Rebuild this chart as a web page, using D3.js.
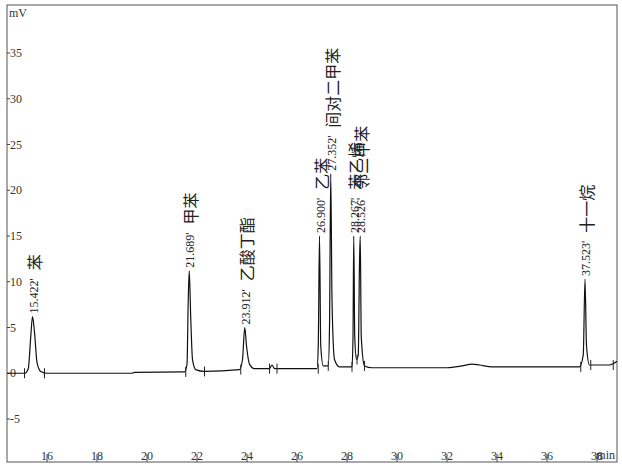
<!DOCTYPE html>
<html><head><meta charset="utf-8">
<script src="https://cdn.jsdelivr.net/npm/d3@7"></script>
<style>body{margin:0;background:#fff}</style>
</head><body>
<div id="chart"></div>
<script>
var trace = [[14.4,0],[15.1,0],[15.25,0.5],[15.35,4],[15.42,6.2],[15.5,4.5],[15.6,1.2],[15.75,0.2],[16,0],[19.4,0],[19.5,0.1],[21.5,0.15],[21.6,1],[21.65,8],[21.69,11.2],[21.75,6],[21.82,1.5],[21.95,0.4],[22.3,0.2],[23.7,0.4],[23.82,1.5],[23.91,5],[23.98,3],[24.1,1],[24.3,0.5],[24.9,0.5],[25.0,0.9],[25.1,0.5],[26.8,0.5],[26.85,3],[26.9,15],[26.95,3],[27.05,0.8],[27.25,0.8],[27.3,5],[27.35,21.8],[27.4,8],[27.5,1.5],[27.7,0.7],[28.2,0.7],[28.24,4],[28.27,15],[28.31,4],[28.38,1.5],[28.45,2],[28.5,12],[28.53,15],[28.57,4],[28.7,0.8],[29,0.6],[32,0.6],[32.6,0.8],[33,1.0],[33.3,0.9],[33.8,0.7],[37.3,0.7],[37.45,2],[37.52,10.3],[37.58,3],[37.7,0.9],[38.5,0.9],[38.8,1.3]];

var peakTimes = [15.422, 21.689, 23.912, 26.900, 27.352, 28.267, 28.526, 37.523];
var peakHeights = [6.2, 11.2, 5.0, 15, 21.8, 15, 15, 10.3];
var peakNames = ["苯", "甲苯", "乙酸丁酯", "乙苯", "间对二甲苯", "苯乙烯", "邻二甲苯", "十一烷"];

var markTimes = [15.1, 15.9, 21.55, 22.3, 23.75, 24.9, 25.2, 26.85, 27.25, 28.2, 28.4, 28.7, 37.35, 37.75, 38.65];
var markLevels = [0, 0, 0.15, 0.2, 0.4, 0.5, 0.5, 0.5, 0.8, 0.7, 1.5, 0.8, 0.7, 0.9, 0.9];

var xTicks = [16, 18, 20, 22, 24, 26, 28, 30, 32, 34, 36, 38];
var yTicks = [-5, 0, 5, 10, 15, 20, 25, 30, 35];

(function(){
  var width = 622, height = 473;
  var m = {left: 7, top: 5, right: 617, bottom: 462};
  var font = "'Liberation Serif', 'Noto Sans CJK SC', serif";

  var x = d3.scaleLinear().domain([14.4, 38.8]).range([m.left, m.right]);
  var y = d3.scaleLinear().domain([-9.7, 40.25]).range([m.bottom, m.top]);

  var svg = d3.select('#chart').append('svg')
    .attr('width', width).attr('height', height);

  svg.append('rect')
    .attr('x', m.left).attr('y', m.top)
    .attr('width', m.right - m.left).attr('height', m.bottom - m.top)
    .attr('fill', 'none').attr('stroke', '#555').attr('stroke-width', 1);

  // y ticks
  var yg = svg.append('g');
  yg.selectAll('line').data(yTicks).enter().append('line')
    .attr('x1', m.left).attr('x2', m.left + 3)
    .attr('y1', function(d){ return y(d); }).attr('y2', function(d){ return y(d); })
    .attr('stroke', '#444');
  yg.selectAll('text').data(yTicks).enter().append('text')
    .attr('x', m.left + 3).attr('y', function(d){ return y(d) + 4; })
    .attr('font-family', font).attr('font-size', 12).attr('fill', '#333')
    .text(function(d){ return d; });

  // x ticks
  var xg = svg.append('g');
  xg.selectAll('line').data(xTicks).enter().append('line')
    .attr('x1', function(d){ return x(d); }).attr('x2', function(d){ return x(d); })
    .attr('y1', m.bottom).attr('y2', m.bottom - 8)
    .attr('stroke', '#444');
  xg.selectAll('text').data(xTicks).enter().append('text')
    .attr('x', function(d){ return x(d); }).attr('y', m.bottom - 2)
    .attr('text-anchor', 'middle')
    .attr('font-family', font).attr('font-size', 12).attr('fill', '#333')
    .text(function(d){ return d; });

  svg.append('text').attr('x', m.left + 2).attr('y', m.top + 12)
    .attr('font-family', font).attr('font-size', 12).attr('fill', '#333').text('mV');
  svg.append('text').attr('x', m.right - 2).attr('y', m.bottom - 3).attr('text-anchor', 'end')
    .attr('font-family', font).attr('font-size', 12).attr('fill', '#333').text('min');

  // trace
  var line = d3.line()
    .x(function(d){ return x(d[0]); })
    .y(function(d){ return y(d[1]); })
    .curve(d3.curveMonotoneX);

  svg.append('path').datum(trace)
    .attr('d', line)
    .attr('fill', 'none').attr('stroke', '#111').attr('stroke-width', 1.2);

  // integration marks
  svg.append('g').selectAll('line').data(markTimes).enter().append('line')
    .attr('x1', function(d){ return x(d); }).attr('x2', function(d){ return x(d); })
    .attr('y1', function(d, i){ return y(markLevels[i]) - 5; })
    .attr('y2', function(d, i){ return y(markLevels[i]) + 5; })
    .attr('stroke', '#222');

  // peak labels
  var labels = svg.append('g');
  peakTimes.forEach(function(t, i){
    var px = x(t) + 5, py = y(peakHeights[i]) - 3;
    var rt = labels.append('text')
      .attr('transform', 'translate(' + px + ',' + py + ') rotate(-90)')
      .attr('font-family', font).attr('font-size', 12).attr('fill', '#222')
      .text(t.toFixed(3) + "'");
    var len = rt.node().getComputedTextLength();
    labels.append('text')
      .attr('transform', 'translate(' + (px + 3) + ',' + (py - len - 8) + ') rotate(-90)')
      .attr('font-family', font).attr('font-size', 16).attr('fill', '#222')
      .text(peakNames[i]);
  });
})();
</script>
</body></html>
